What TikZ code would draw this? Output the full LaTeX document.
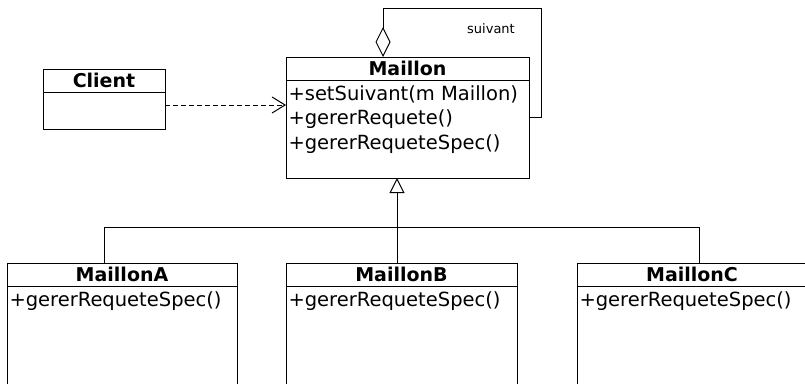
\documentclass[tikz,border=0pt]{standalone}
\usepackage{fontspec}
\setmainfont{DejaVu Sans}
\usepackage{tikz}
\usetikzlibrary{positioning,arrows.meta}

\begin{document}
\begin{tikzpicture}[x=1pt,y=-1pt,line width=1pt,
  classname/.style={draw,minimum height=23pt,inner sep=0pt,outer sep=0pt,font=\bfseries\fontsize{19}{23}\selectfont},
  classbody/.style={draw,anchor=north,inner sep=0pt,outer sep=0pt},
  ops/.style={anchor=north west,align=left,inner xsep=2pt,inner ysep=5pt,font=\fontsize{19.5}{24.5}\selectfont},
  depend/.style={dash pattern=on 5pt off 3pt,-{Straight Barb[length=13pt,width=16pt]}},
  aggr/.style={-{Diamond[open,length=30pt,width=15pt]}},
  gen/.style={-{Triangle[open,length=15pt,width=15pt]}}]
\clip (0,0) rectangle (805,383);
% client
\node[classname,minimum width=122pt] (client) at (104,80.5) {Client};
\node[classbody,minimum width=122pt,minimum height=37pt] (clientbody) at (client.south) {};
% maillon
\node[classname,minimum width=243pt] (maillon) at (407.5,68.5) {Maillon};
\node[classbody,minimum width=243pt,minimum height=98pt] (maillonbody) at (maillon.south) {};
\node[ops] (maillonops) at (maillonbody.north west) {+setSuivant(m Maillon)\\+gererRequete()\\+gererRequeteSpec()};
\node[font=\fontsize{13}{15}\selectfont] (suivant) at (491,29) {suivant};
% subclasses
\node[classname,minimum width=230pt] (maillona) at (122,274.5) {MaillonA};
\node[classbody,minimum width=230pt,minimum height=120pt] (maillonabody) at (maillona.south) {};
\node[ops] (maillonaops) at (maillonabody.north west) {+gererRequeteSpec()};
\node[classname,minimum width=231pt] (maillonb) at (401.5,274.5) {MaillonB};
\node[classbody,minimum width=231pt,minimum height=120pt] (maillonbbody) at (maillonb.south) {};
\node[ops] (maillonbops) at (maillonbbody.north west) {+gererRequeteSpec()};
\node[classname,minimum width=230pt] (maillonc) at (692,274.5) {MaillonC};
\node[classbody,minimum width=230pt,minimum height=120pt] (mailloncbody) at (maillonc.south) {};
\node[ops] (mailloncops) at (mailloncbody.north west) {+gererRequeteSpec()};
% connectors
\draw[depend] (clientbody.east |- 0,105) -- (maillonbody.west |- 0,105);
\draw[aggr] (maillonbody.east |- 0,117) -- (541,117) |- (383,8) -- (maillon.north -| 383,0);
\draw[gen] (maillonb.north -| 397,0) -- (maillonbody.south -| 397,0);
\draw (maillona.north -| 104,0) |- (699,227) -- (maillonc.north -| 699,0);
\end{tikzpicture}
\end{document}
